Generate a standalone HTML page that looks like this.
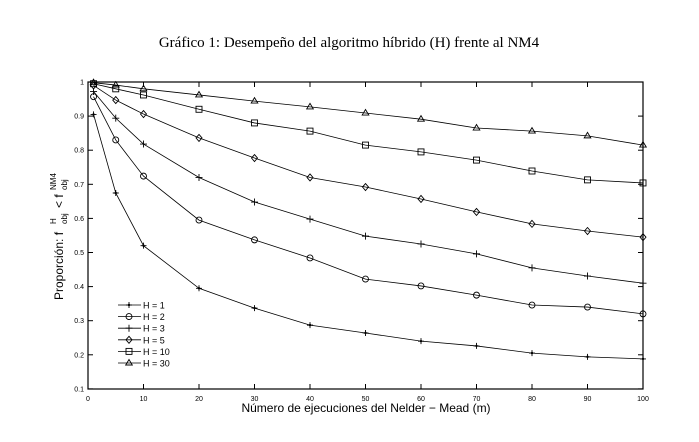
<!DOCTYPE html>
<html><head><meta charset="utf-8"><style>
body{margin:0;background:#fff;width:699px;height:437px;overflow:hidden}
text{font-family:"Liberation Sans",sans-serif}
</style></head><body>
<svg id="s" width="699" height="437" xmlns="http://www.w3.org/2000/svg">
<text x="349" y="47" text-anchor="middle" style="font-family:'Liberation Serif',serif;font-size:15px">Gráfico 1: Desempeño del algoritmo híbrido (H) frente al NM4</text>
<rect x="88" y="82" width="555" height="307" fill="none" stroke="#000" stroke-width="1.2"/>
<text x="366" y="412" text-anchor="middle" font-size="12">Número de ejecuciones del Nelder − Mead (m)</text>
<g transform="translate(63,236) rotate(-90)">
<text x="-64" y="0" font-size="12">Proporción: f</text>
<text x="12" y="4" font-size="8">obj</text>
<text x="12" y="-7" font-size="8">H</text>
<text x="28" y="0" font-size="12">&lt; f</text>
<text x="46" y="4" font-size="8">obj</text>
<text x="46" y="-7" font-size="8">NM4</text>
</g>
<g id="g"></g>
</svg>
<script>
var g=document.getElementById('g'),h='';
function X(m){return 88+m*5.55}function Y(v){return 82+(1-v)*341}
for(var i=0;i<=10;i++){var x=X(i*10);h+='<line x1="'+x+'" y1="389" x2="'+x+'" y2="384" stroke="#000"/><line x1="'+x+'" y1="82" x2="'+x+'" y2="87" stroke="#000"/><text x="'+x+'" y="401" font-size="7" text-anchor="middle">'+(i*10)+'</text>';}
for(var i=1;i<=10;i++){var v=i/10,y=Y(v);h+='<line x1="88" y1="'+y+'" x2="93" y2="'+y+'" stroke="#000"/><line x1="643" y1="'+y+'" x2="638" y2="'+y+'" stroke="#000"/><text x="84" y="'+(y+2.5)+'" font-size="7" text-anchor="end">'+(i==10?'1':v.toFixed(1))+'</text>';}
var xs=[1,5,10,20,30,40,50,60,70,80,90,100];
var D=[
[0.905,0.6745,0.52,0.395,0.337,0.287,0.264,0.24,0.226,0.205,0.194,0.188],
[0.957,0.83,0.724,0.595,0.537,0.484,0.422,0.402,0.375,0.346,0.34,0.32],
[0.972,0.894,0.818,0.72,0.648,0.598,0.548,0.525,0.496,0.455,0.431,0.41],
[0.99,0.947,0.906,0.836,0.777,0.72,0.692,0.657,0.619,0.584,0.563,0.545],
[0.995,0.98,0.962,0.92,0.88,0.856,0.815,0.795,0.771,0.739,0.713,0.704],
[0.998,0.991,0.98,0.962,0.944,0.927,0.909,0.891,0.865,0.856,0.842,0.815]];
function mk(t,x,y){var s='stroke="#000" fill="none" stroke-width="0.9"';
if(t==0)return '<path d="M'+(x-3)+' '+y+'h6M'+x+' '+(y-3)+'v6" '+s+' stroke-width="1.4"/><circle cx="'+x+'" cy="'+y+'" r="1.2"/>';
if(t==1)return '<circle cx="'+x+'" cy="'+y+'" r="3" '+s+'/>';
if(t==2)return '<path d="M'+(x-3.5)+' '+y+'h7M'+x+' '+(y-3.5)+'v7" '+s+'/>';
if(t==3)return '<path d="M'+x+' '+(y-3.5)+'l3 3.5l-3 3.5l-3 -3.5z" '+s+'/>';
if(t==4)return '<rect x="'+(x-3)+'" y="'+(y-3)+'" width="6" height="6" '+s+'/>';
return '<path d="M'+x+' '+(y-3.5)+'l3.3 5.5h-6.6z" '+s+'/>';}
D.forEach(function(d,t){var p='';d.forEach(function(v,k){p+=(k?'L':'M')+X(xs[k])+' '+Y(v);});
h+='<path d="'+p+'" fill="none" stroke="#000" stroke-width="0.8"/>';
d.forEach(function(v,k){h+=mk(t,X(xs[k]),Y(v));});});
var L=['H = 1','H = 2','H = 3','H = 5','H = 10','H = 30'];
L.forEach(function(l,t){var y=305+t*11.6;h+='<line x1="118" y1="'+y+'" x2="141" y2="'+y+'" stroke="#000" stroke-width="0.8"/>'+mk(t,129,y)+'<text x="143" y="'+(y+3.5)+'" font-size="9">'+l+'</text>';});
g.innerHTML=h;
</script>
</body></html>
